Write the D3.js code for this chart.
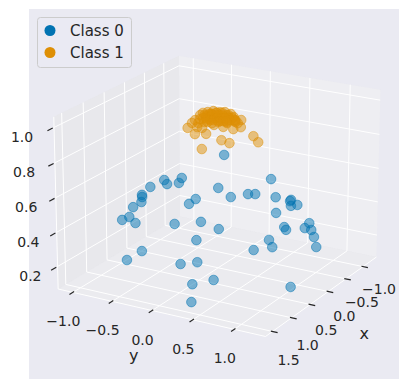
<!DOCTYPE html>
<html>
<head>
<meta charset="utf-8">
<script src="https://d3js.org/d3.v7.min.js"></script>
<style>
  html, body { margin: 0; padding: 0; background: #fff; }
  text { font-family: "DejaVu Sans", sans-serif; fill: #262626; }
</style>
</head>
<body>
<div id="chart-area"></div>
<script>
// Class 0 points (ring)
var class0X = [-.27,.05,-.60,-.48,-.60,-.79,.01,.18,.24,.58,.72,.73,1.08,1.14,-.90,-1.00,-.67,-.92,-.45,.81,.75,1.08,1.45,-1.14,-1.07,-1.09,-1.03,-1.08,-1.13,-1.16,-.84,-.89,-.80,-.76,-.91,-.77,-.69,-.60,-.68,-.58,-.48,-.39,-.52,-.31,-.36,-.91,1.07,.53];
var class0Y = [-1.01,-.955,-.994,-.896,-.80,-.857,-.974,-.896,-.974,-.847,-.866,-.69,-.43,-.59,-.817,-.778,-.896,-.67,-.50,-.08,.10,.20,.37,-.47,.17,-.523,-.33,-.13,-.06,.19,.517,.507,.546,.644,.31,.478,.537,.811,.831,.90,.978,1.047,.40,.537,.28,-.43,.458,1.145];
var class0Z = [.42,.42,.42,.42,.42,.42,.40,.40,.37,.37,.37,.37,.28,.22,.25,.27,.15,.15,.12,.20,.22,.15,.12,.55,.47,.35,.32,.35,.35,.35,.40,.40,.38,.40,.30,.25,.25,.30,.32,.30,.28,.24,.20,.20,.15,.13,.20,.15];

// Class 1 points (dome)
var class1X = [.40,.27,.23,-.23,-.23,.15,.29,.27,.27,.15,.16,.11,-.13,.10,.10,.01,.04,.04,0,-.03,-.07,-.10,-.07,-.07,-.07,.10,.08,.03,.03,.01,.15,.10,.09,.12,.06,.04,.02,.01,-.03,-.03,.08,.09,.04,0,-.06,.10,.12,.08,.03,-.03,.11,.21,.16,-.14,.04,.02,-.02,.05,0,-.02,.07,.03,.06,.10,.06,.12,0,-.05,.02,.04,0,-.04,.08];
var class1Y = [-.01,.17,.25,.33,.39,-.31,-.15,-.02,-.07,.02,.14,.24,.22,-.28,-.24,-.22,-.17,-.11,-.06,.01,.05,.11,.16,.18,.21,-.14,-.06,0,.08,.13,-.06,-.01,.07,-.19,.14,-.15,-.07,.02,.09,.16,-.11,-.01,.06,.13,.18,-.18,-.04,.04,.12,.20,-.12,-.16,0,.22,-.09,-.01,.04,-.05,.05,.12,.02,.10,-.12,.05,.13,-.08,-.02,.10,-.08,0,.15,.18,.10];
var class1Z = [.82,.87,.855,.845,.815,.885,.88,.89,.92,.93,.93,.92,.90,.91,.93,.95,.97,.98,.985,.98,.98,.97,.96,.945,.93,.95,.96,.96,.96,.95,.94,.95,.95,.92,.94,.96,.97,.97,.97,.96,.95,.96,.96,.96,.94,.94,.95,.94,.94,.94,.93,.91,.94,.94,.97,.98,.98,.97,.97,.96,.96,.96,.96,.95,.95,.95,.98,.97,.97,.97,.95,.95,.95];

// Axis ticks and limits
var xTicks = [-1, -.5, 0, .5, 1, 1.5];
var yTicks = [-1, -.5, 0, .5, 1];
var zTicks = [.2, .4, .6, .8, 1];
var xLim = [-1.4, 1.68], yLim = [-1.19, 1.37], zLim = [.067, 1.06];
var classNames = ["Class 0", "Class 1"];
var classColors = ["#0173b2", "#de8f05"];

var width = 408, height = 389;

// View, same idea as mplot3d
var azim = 30 * Math.PI / 180, elev = 20 * Math.PI / 180, dist = 10;
var zAspect = 0.765;

var xn = d3.scaleLinear().domain(xLim).range([-.5, .5]);
var yn = d3.scaleLinear().domain(yLim).range([-.5, .5]);
var zn = d3.scaleLinear().domain(zLim).range([-zAspect / 2, zAspect / 2]);

var uScale = d3.scaleLinear().domain([-1, 1]).range([220 - 236, 220 + 236]);
var vScale = d3.scaleLinear().domain([-1, 1]).range([189 + 236, 189 - 236]);

function project(x, y, z) {
	var a = xn(x), b = yn(y), c = zn(z);
	var ex = Math.cos(elev) * Math.cos(azim),
		ey = Math.cos(elev) * Math.sin(azim),
		ez = Math.sin(elev);
	var depth = a * ex + b * ey + c * ez;
	var f = dist / (dist - depth);
	var u = (-a * Math.sin(azim) + b * Math.cos(azim)) * f;
	var v = (-a * ex * Math.tan(elev) - b * ey * Math.tan(elev) + c * Math.cos(elev)) * f;
	return { px: uScale(u), py: vScale(v), depth: depth };
}

var svg = d3.select("#chart-area").append("svg")
	.attr("width", width)
	.attr("height", height)
	.style("display", "block");

svg.append("rect")
	.attr("x", 29).attr("y", 9)
	.attr("width", 370).attr("height", 370)
	.attr("fill", "#eaeaf2");

function path3d(points) {
	return d3.line()
		.x((d) => project(d[0], d[1], d[2]).px)
		.y((d) => project(d[0], d[1], d[2]).py)(points);
}

// Panes
var x0 = xLim[0], x1 = xLim[1], y0 = yLim[0], y1 = yLim[1], z0 = zLim[0], z1 = zLim[1];
var panes = [
	{ color: "rgb(242,242,242)", pts: [[x0, y0, z0], [x0, y1, z0], [x0, y1, z1], [x0, y0, z1]] },
	{ color: "rgb(230,230,230)", pts: [[x0, y0, z0], [x1, y0, z0], [x1, y0, z1], [x0, y0, z1]] },
	{ color: "rgb(236,236,236)", pts: [[x0, y0, z0], [x1, y0, z0], [x1, y1, z0], [x0, y1, z0]] }
];
svg.selectAll(".pane").data(panes).enter().append("path")
	.attr("class", "pane")
	.attr("d", (d) => path3d(d.pts) + "Z")
	.attr("fill", (d) => d.color)
	.attr("fill-opacity", .5);

// Grid lines
var grid = [];
xTicks.forEach((t) => grid.push([[t, y1, z0], [t, y0, z0], [t, y0, z1]]));
yTicks.forEach((t) => grid.push([[x1, t, z0], [x0, t, z0], [x0, t, z1]]));
zTicks.forEach((t) => grid.push([[x1, y0, t], [x0, y0, t], [x0, y1, t]]));
svg.selectAll(".grid").data(grid).enter().append("path")
	.attr("class", "grid")
	.attr("d", (d) => path3d(d))
	.attr("fill", "none")
	.attr("stroke", "#fff")
	.attr("stroke-width", 1);

// Axis lines
var axisLines = [
	[[x0, y1, z0], [x1, y1, z0]],
	[[x1, y0, z0], [x1, y1, z0]],
	[[x1, y0, z0], [x1, y0, z1]]
];
svg.selectAll(".axisline").data(axisLines).enter().append("path")
	.attr("class", "axisline")
	.attr("d", (d) => path3d(d))
	.attr("fill", "none")
	.attr("stroke", "#fff")
	.attr("stroke-width", 1);

// Tick marks
var marks = [];
xTicks.forEach((t) => marks.push([[t, y1 - .02, z0], [t, y1 + .06, z0]]));
yTicks.forEach((t) => marks.push([[x1 - .03, t, z0], [x1 + .08, t, z0]]));
zTicks.forEach((t) => marks.push([[x1 + .03, y0, t], [x1 + .15, y0, t]]));
svg.selectAll(".tick").data(marks).enter().append("path")
	.attr("class", "tick")
	.attr("d", (d) => path3d(d))
	.attr("stroke", "#262626")
	.attr("stroke-width", 1.2);

// Tick labels sit at a small offset from where the tick meets the box
var fmt = (t) => d3.format(".1f")(t).replace("-", "\u2212");
var labels = [];
xTicks.forEach((t) => {
	var p = project(t, y1, z0);
	labels.push({ text: fmt(t), px: p.px + 16, py: p.py + 22.4 + (t + 1) * 2.4 });
});
yTicks.forEach((t) => {
	var p = project(x1, t, z0);
	labels.push({ text: fmt(t), px: p.px - 9.5, py: p.py + 29 });
});
zTicks.forEach((t) => {
	var p = project(x1, y0, t);
	labels.push({ text: fmt(t), px: p.px - 26 - 6 * t, py: p.py + 9.5 });
});
svg.selectAll(".ticklabel").data(labels).enter().append("text")
	.attr("class", "ticklabel")
	.attr("x", (d) => d.px)
	.attr("y", (d) => d.py)
	.attr("text-anchor", "middle")
	.attr("dominant-baseline", "central")
	.attr("font-size", 14)
	.text((d) => d.text);

// Axis labels
var xl = project((x0 + x1) / 2, y1 + .5, z0 - .175);
var yl = project(x1 + .62, (y0 + y1) / 2, z0 - .15);
svg.append("text").attr("x", xl.px).attr("y", xl.py)
	.attr("text-anchor", "middle").attr("dominant-baseline", "central")
	.attr("font-size", 16).text("x");
svg.append("text").attr("x", yl.px).attr("y", yl.py)
	.attr("text-anchor", "middle").attr("dominant-baseline", "central")
	.attr("font-size", 16).text("y");

// Scatter, far points first
var points = [];
class0X.forEach((d, i) => points.push({ c: 0, p: project(d, class0Y[i], class0Z[i]) }));
class1X.forEach((d, i) => points.push({ c: 1, p: project(d, class1Y[i], class1Z[i]) }));
points.sort((a, b) => a.p.depth - b.p.depth);
svg.selectAll(".dot").data(points).enter().append("circle")
	.attr("class", "dot")
	.attr("cx", (d) => d.p.px)
	.attr("cy", (d) => d.p.py)
	.attr("r", 4.8)
	.attr("fill", (d) => classColors[d.c])
	.attr("fill-opacity", .5)
	.attr("stroke", (d) => classColors[d.c])
	.attr("stroke-opacity", .5)
	.attr("stroke-width", 1);

// Legend
var legend = svg.append("g");
legend.append("rect")
	.attr("x", 37.5).attr("y", 17.5)
	.attr("width", 94).attr("height", 50).attr("rx", 3)
	.attr("fill", "#eaeaf2").attr("fill-opacity", .8)
	.attr("stroke", "#cccccc").attr("stroke-width", 1);
classNames.forEach((name, i) => {
	legend.append("circle")
		.attr("cx", 50).attr("cy", 30.5 + i * 22)
		.attr("r", 5.5)
		.attr("fill", classColors[i]);
	legend.append("text")
		.attr("x", 70).attr("y", 30.5 + i * 22)
		.attr("dominant-baseline", "central")
		.attr("font-size", 15)
		.text(name);
});
</script>
</body>
</html>
